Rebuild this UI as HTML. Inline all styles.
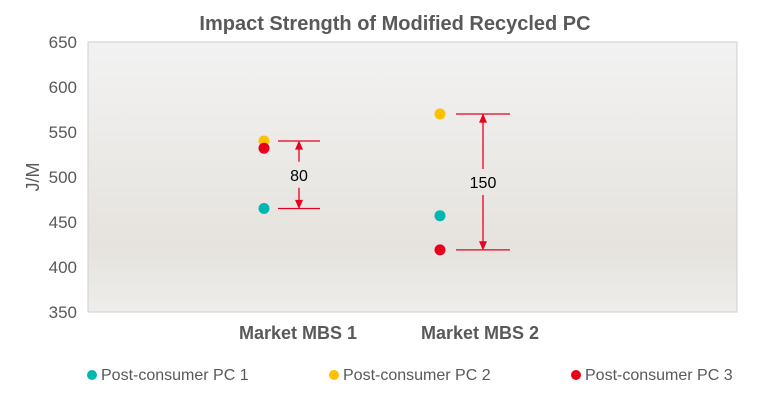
<!DOCTYPE html>
<html><head><meta charset="utf-8"><style>
body{margin:0;background:#fff;width:758px;height:401px;overflow:hidden;font-family:"Liberation Sans",sans-serif}
</style></head><body>
<svg width="758" height="401" font-family="Liberation Sans, sans-serif">
<defs><linearGradient id="bg" x1="0" y1="0" x2="0" y2="1">
<stop offset="0" stop-color="#f2f2f2"/><stop offset="0.75" stop-color="#e6e3de"/><stop offset="1" stop-color="#eeedeb"/></linearGradient></defs>
<text x="395" y="30" text-anchor="middle" font-size="20" font-weight="bold" fill="#595959">Impact Strength of Modified Recycled PC</text>
<rect x="88" y="42" width="649" height="270" fill="url(#bg)" stroke="#cfcfcf"/>
<g id="yticks"></g>
<text transform="translate(39,177) rotate(-90)" text-anchor="middle" font-size="18" fill="#595959">J/M</text>
<text x="298" y="339" text-anchor="middle" font-size="18" font-weight="bold" fill="#595959">Market MBS 1</text>
<text x="480" y="339" text-anchor="middle" font-size="18" font-weight="bold" fill="#595959">Market MBS 2</text>
<g id="ann"></g>
<g id="pts"></g>
<g font-size="16" fill="#595959">
<circle cx="92" cy="375" r="5" fill="#00b8b0"/><text x="101" y="380">Post-consumer PC 1</text>
<circle cx="334" cy="375" r="5" fill="#ffc000"/><text x="343" y="380">Post-consumer PC 2</text>
<circle cx="576" cy="375" r="5" fill="#e8001c"/><text x="585" y="380">Post-consumer PC 3</text>
</g>
</svg>
<script>
const ticks=[350,400,450,500,550,600,650];
const categories=["Market MBS 1","Market MBS 2"];
const pc1=[465,457];
const pc2=[540,570];
const pc3=[532,419];
const diffs=[80,150];
const NS="http://www.w3.org/2000/svg";
function y(v){return 312-(v-350)*270/300;}
const catX=[264,440];
function mk(t,a,p){const e=document.createElementNS(NS,t);for(const k in a)e.setAttribute(k,a[k]);(p||document.getElementById('pts')).appendChild(e);return e;}
const yt=document.getElementById('yticks');
ticks.forEach(v=>{const t=mk('text',{x:77,y:y(v)+6,'text-anchor':'end','font-size':17,fill:'#595959'},yt);t.textContent=v;

});
const series=[[pc1,'#00b8b0','pc1'],[pc2,'#ffc000','pc2'],[pc3,'#e8001c','pc3']];
series.forEach(([d,c,n])=>d.forEach((v,i)=>{const e=mk('circle',{cx:catX[i],cy:y(v),r:5.5,fill:c});

}));
const an=document.getElementById('ann');
const annX=[[278,320,299],[456,510,483]];
categories.forEach((c,i)=>{
 const top=Math.max(pc1[i],pc2[i],pc3[i]),bot=Math.min(pc1[i],pc2[i],pc3[i]);
 const [x1,x2,xm]=annX[i];const yt_=y(top),yb=y(bot),ym=(yt_+yb)/2;
 const g=mk('g',{stroke:'#e8001c','stroke-width':1.3,fill:'#e8001c'},an);
 
 
 mk('line',{x1:x1,x2:x2,y1:yt_,y2:yt_},g);mk('line',{x1:x1,x2:x2,y1:yb,y2:yb},g);
 mk('line',{x1:xm,x2:xm,y1:yt_+2,y2:ym-13},g);mk('line',{x1:xm,x2:xm,y1:ym+13,y2:yb-2},g);
 mk('path',{d:`M${xm-3} ${yt_+8}L${xm+3} ${yt_+8}L${xm} ${yt_+1}Z`},g);
 mk('path',{d:`M${xm-3} ${yb-8}L${xm+3} ${yb-8}L${xm} ${yb-1}Z`},g);
 const t=mk('text',{x:xm,y:ym+6,'text-anchor':'middle','font-size':16,fill:'#000'},an);t.textContent=diffs[i];
 
 
});
</script>
</body></html>
